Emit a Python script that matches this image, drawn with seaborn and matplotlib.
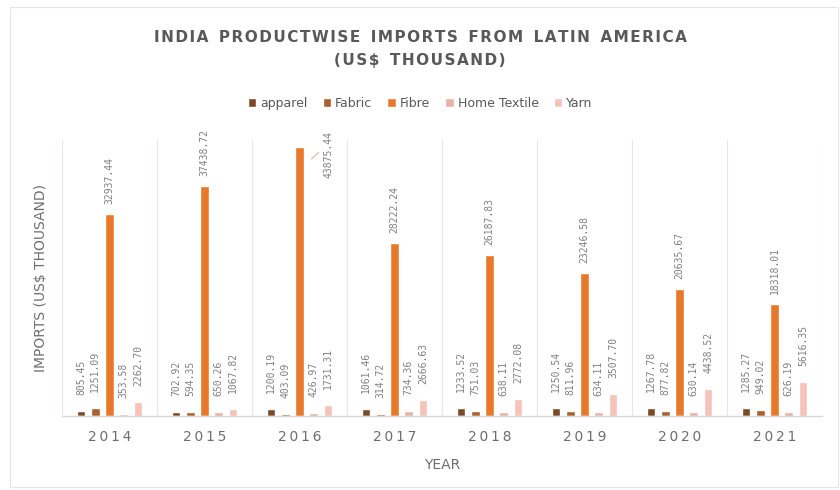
import numpy as np
import pandas as pd
import matplotlib
matplotlib.use("Agg")
import matplotlib.pyplot as plt
import seaborn as sns
from matplotlib.patches import Rectangle

years = ["2014", "2015", "2016", "2017", "2018", "2019", "2020", "2021"]
products = ["apparel", "Fabric", "Fibre", "Home Textile", "Yarn"]
apparel = [805.45, 702.92, 1200.19, 1061.46, 1233.52, 1250.54, 1267.78, 1285.27]
fabric = [1251.09, 594.35, 403.09, 314.72, 751.03, 811.96, 877.82, 949.02]
fibre = [32937.44, 37438.72, 43875.44, 28222.24, 26187.83, 23246.58, 20635.67, 18318.01]
home_textile = [353.58, 650.26, 426.97, 734.36, 638.11, 634.11, 630.14, 626.19]
yarn = [2262.70, 1067.82, 1731.31, 2666.63, 2772.08, 3507.70, 4438.52, 5616.35]

series = [apparel, fabric, fibre, home_textile, yarn]
colors = ["#7A4A26", "#A9602C", "#E8782A", "#E6B3A6", "#F6C3BA"]

rows = []
for p, vals in zip(products, series):
    for y, v in zip(years, vals):
        rows.append({"Year": y, "Product": p, "Value": v})
df = pd.DataFrame(rows)

sns.set_theme(style="white")
plt.rcParams["font.family"] = ["DejaVu Sans"]

fig = plt.figure(figsize=(8.4, 4.9), dpi=100)
ax = fig.add_axes([62 / 840, (490 - 416) / 490, (822 - 62) / 840, (416 - 140) / 490])

sns.barplot(data=df, x="Year", y="Value", hue="Product", order=years,
            hue_order=products, palette=colors, gap=0.4, width=0.75,
            saturation=1, ax=ax, legend=True)

ax.set_xlim(-0.5, len(years) - 0.5)
ax.set_ylim(0, 45000)
ax.set_yticks([])
for s in ["top", "right", "left"]:
    ax.spines[s].set_visible(False)
ax.spines["bottom"].set_color("#D9D9D9")
ax.spines["bottom"].set_linewidth(1)

# separators between groups
for i in range(len(years) + 1):
    ax.axvline(i - 0.5, color="#E3E8EC", lw=0.9, zorder=0)

label_color = "#808080"
px = 45000 / 276.0  # data units per pixel
for ci, cont in enumerate(ax.containers):
    for bi, bar in enumerate(cont):
        v = bar.get_height()
        x = bar.get_x() + bar.get_width() / 2
        txt = f"{v:.2f}"
        if ci == 2 and bi == 2:
            ax.annotate(txt, xy=(bar.get_x() + bar.get_width() + 0.08, v - 12 * px),
                        xytext=(x + 0.3, v + 16 * px),
                        rotation=90, ha="center", va="top", fontsize=7,
                        color=label_color, family="DejaVu Sans Mono",
                        annotation_clip=False,
                        arrowprops=dict(arrowstyle="-", color="#D0B090", lw=0.7,
                                        shrinkA=1, shrinkB=0, relpos=(0.0, 0.62)))
        else:
            off = 10 * px if ci == 2 else 16 * px
            ax.text(x, v + off, txt, rotation=90, ha="center", va="bottom",
                    fontsize=7, color=label_color, family="DejaVu Sans Mono")

ax.set_xticks(range(len(years)))
ax.set_xticklabels(["\u2009".join(y) for y in years], fontsize=10, color="#6E6E6E")
ax.tick_params(axis="x", length=0, pad=10)
ax.set_xlabel("YEAR", fontsize=10, color="#6E6E6E", labelpad=10)
ax.set_ylabel("IMPORTS (US$ THOUSAND)", fontsize=10, color="#6E6E6E", labelpad=10)

leg = ax.legend(loc="upper center", bbox_to_anchor=(0.5, (490 - 86) / 490), bbox_transform=fig.transFigure,
                ncol=5, frameon=False, fontsize=9, handlelength=0.7, handleheight=0.7,
                handletextpad=0.3, columnspacing=1.2)
for t in leg.get_texts():
    t.set_color("#595959")

def spaced(s):
    return "\u200a".join(s).replace("\u200a \u200a", "  ")

fig.text(0.5, (490 - 37) / 490, spaced("INDIA PRODUCTWISE IMPORTS FROM LATIN AMERICA"),
         ha="center", va="center", fontsize=11, fontweight="bold", color="#595959")
fig.text(0.5, (490 - 60) / 490, spaced("(US$ THOUSAND)"),
         ha="center", va="center", fontsize=11, fontweight="bold", color="#595959")

fig.patches.append(Rectangle((10 / 840, 3 / 490), 828 / 840, 480 / 490, transform=fig.transFigure,
                             fill=False, edgecolor="#E6E6E6", lw=0.8))

fig.savefig("out.png", dpi=100)
